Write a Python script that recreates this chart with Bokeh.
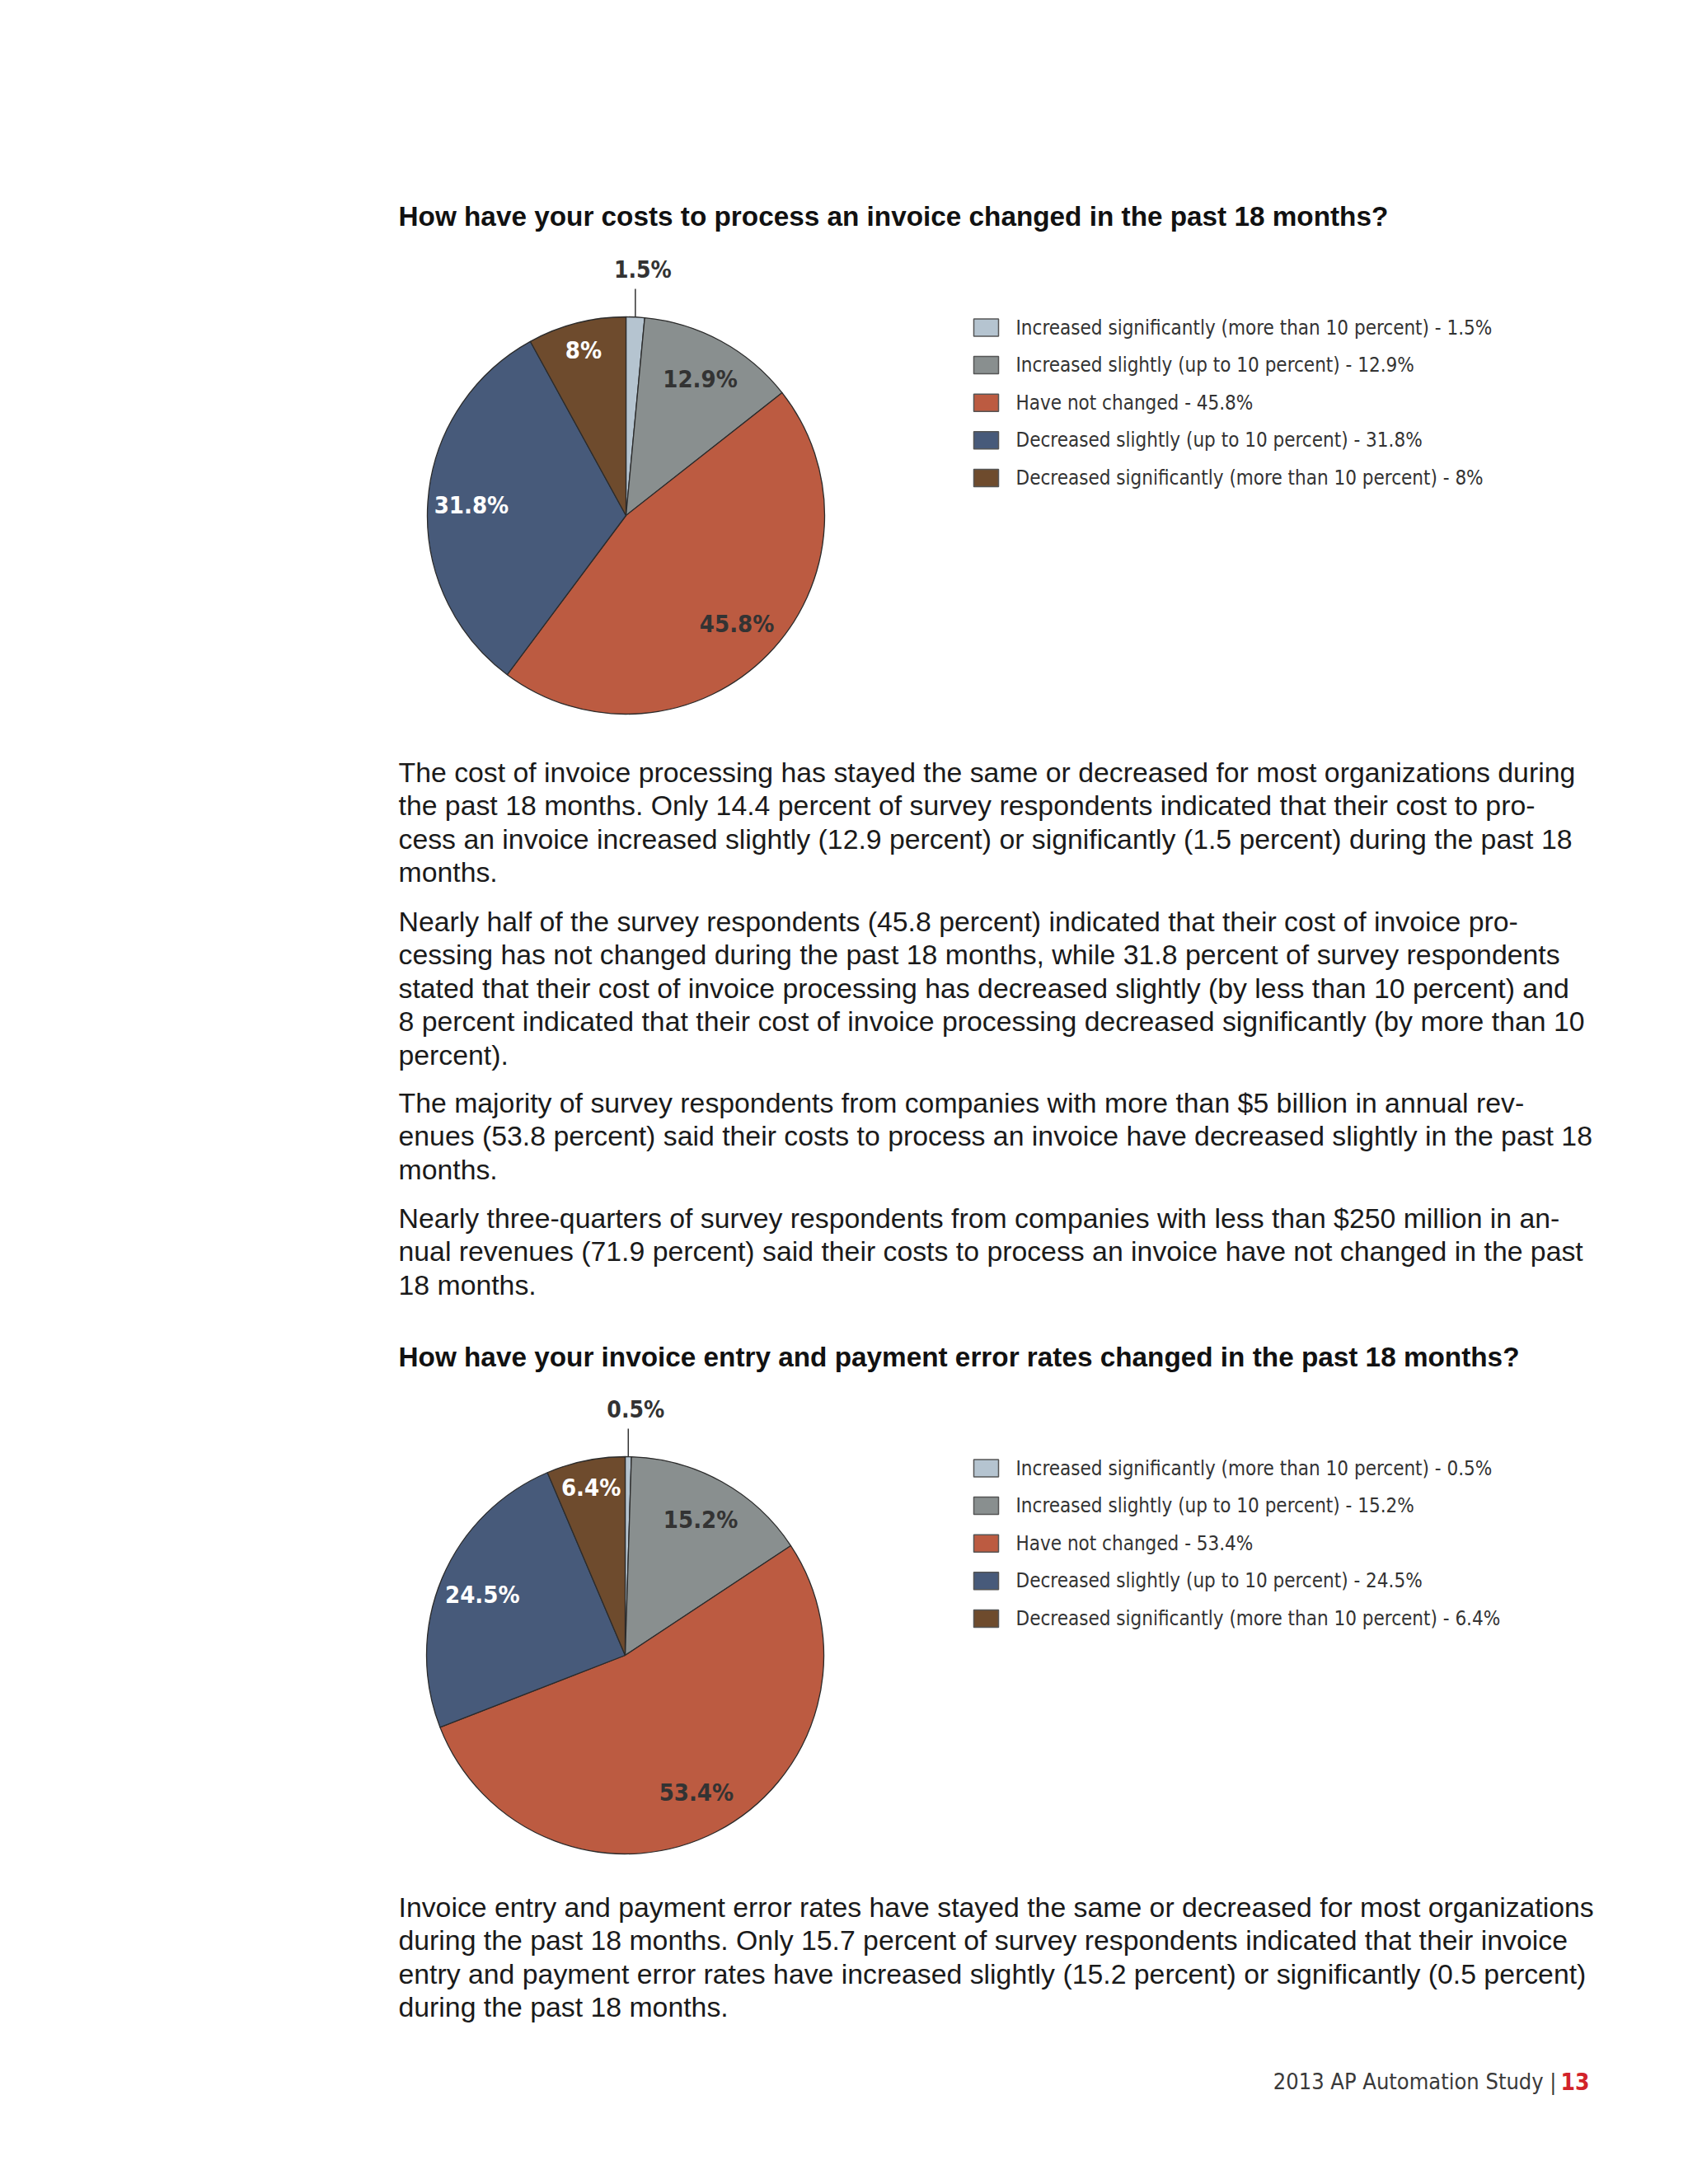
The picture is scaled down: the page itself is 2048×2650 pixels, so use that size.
import numpy as np
from bokeh.plotting import figure
from bokeh.models import Range1d, ColumnDataSource
from bokeh.core.properties import value
from bokeh.embed import file_html
from bokeh.resources import INLINE

# ---------------- data ----------------
categories = [
    "Increased significantly (more than 10 percent)",
    "Increased slightly (up to 10 percent)",
    "Have not changed",
    "Decreased slightly (up to 10 percent)",
    "Decreased significantly (more than 10 percent)",
]
costs_values = [1.5, 12.9, 45.8, 31.8, 8.0]
costs_labels = ["1.5%", "12.9%", "45.8%", "31.8%", "8%"]
errors_values = [0.5, 15.2, 53.4, 24.5, 6.4]
errors_labels = ["0.5%", "15.2%", "53.4%", "24.5%", "6.4%"]
colors = ["#b5c4d0", "#898f8f", "#bc5b41", "#475a7a", "#6e4b2d"]
label_colors = ["#333333", "#333333", "#333333", "#ffffff", "#ffffff"]

title1 = "How have your costs to process an invoice changed in the past 18 months?"
title2 = "How have your invoice entry and payment error rates changed in the past 18 months?"

para1 = [
    "The cost of invoice processing has stayed the same or decreased for most organizations during",
    "the past 18 months. Only 14.4 percent of survey respondents indicated that their cost to pro-",
    "cess an invoice increased slightly (12.9 percent) or significantly (1.5 percent) during the past 18",
    "months.",
]
para2 = [
    "Nearly half of the survey respondents (45.8 percent) indicated that their cost of invoice pro-",
    "cessing has not changed during the past 18 months, while 31.8 percent of survey respondents",
    "stated that their cost of invoice processing has decreased slightly (by less than 10 percent) and",
    "8 percent indicated that their cost of invoice processing decreased significantly (by more than 10",
    "percent).",
]
para3 = [
    "The majority of survey respondents from companies with more than $5 billion in annual rev-",
    "enues (53.8 percent) said their costs to process an invoice have decreased slightly in the past 18",
    "months.",
]
para4 = [
    "Nearly three-quarters of survey respondents from companies with less than $250 million in an-",
    "nual revenues (71.9 percent) said their costs to process an invoice have not changed in the past",
    "18 months.",
]
para5 = [
    "Invoice entry and payment error rates have stayed the same or decreased for most organizations",
    "during the past 18 months. Only 15.7 percent of survey respondents indicated that their invoice",
    "entry and payment error rates have increased slightly (15.2 percent) or significantly (0.5 percent)",
    "during the past 18 months.",
]
footer_text = "2013 AP Automation Study |"
footer_page = "13"

# ---------------- layout ----------------
W, H = 2032, 2634


def Y(py):
    return H - py


p = figure(width=W, height=H, x_range=Range1d(0, W), y_range=Range1d(0, H),
           output_backend="svg", toolbar_location=None, match_aspect=False)
p.axis.visible = False
p.grid.visible = False
p.outline_line_color = None
p.min_border = 0
p.min_border_left = p.min_border_right = p.min_border_top = p.min_border_bottom = 0
p.background_fill_color = "white"

BODY = value("'Liberation Sans', Arial, sans-serif")
NARROW = value("'DejaVu Sans Condensed', sans-serif")

LEFT = 483
LH = 40.6


def draw_lines(lines, y0):
    ys = [Y(y0 + i * LH) for i in range(len(lines))]
    p.text(x=[LEFT] * len(lines), y=ys, text=lines, text_font=BODY,
           text_font_size="33.8px", text_color="#1a1a1a",
           text_align="left", text_baseline="middle")


def draw_pie(values, labels, cx, cy, r, legend_y0, leg_vals):
    v = np.array(values, dtype=float)
    frac = v / v.sum()
    cum = np.concatenate([[0], np.cumsum(frac)])
    start = np.pi / 2 - 2 * np.pi * cum[:-1]
    end = np.pi / 2 - 2 * np.pi * cum[1:]
    src = ColumnDataSource(dict(start=start, end=end, color=colors))
    p.wedge(x=cx, y=Y(cy), radius=r, start_angle="start", end_angle="end",
            direction="clock", fill_color="color", line_color="#2b2b2b",
            line_width=1.3, source=src)
    mid = 2 * np.pi * (cum[:-1] + cum[1:]) / 2  # clockwise from top
    lx, ly, lt, lc = [], [], [], []
    for i in range(1, len(values)):
        k = 0.86 if frac[i] < 0.10 else 0.78
        lx.append(cx + k * r * np.sin(mid[i]))
        ly.append(Y(cy - k * r * np.cos(mid[i])))
        lt.append(labels[i])
        lc.append(label_colors[i])
    p.text(x=lx, y=ly, text=lt, text_color=lc, text_font=NARROW,
           text_font_style="bold", text_font_size="29px",
           text_align="center", text_baseline="middle")
    x0 = cx + r * np.sin(mid[0])
    p.segment(x0=[x0], y0=[Y(cy - r)], x1=[x0], y1=[Y(cy - r - 34)],
              line_color="#333333", line_width=1.5)
    p.text(x=[x0 + 9], y=[Y(cy - r - 57)], text=[labels[0]], text_color="#333333",
           text_font=NARROW, text_font_style="bold", text_font_size="28px",
           text_align="center", text_baseline="middle")
    n = len(categories)
    ys = [Y(legend_y0 + i * 45.6) for i in range(n)]
    p.rect(x=[1196] * n, y=ys, width=30, height=21, fill_color=colors,
           line_color="#555555", line_width=1.5)
    texts = [f"{c} - {lab}" for c, lab in zip(categories, leg_vals)]
    p.text(x=[1232] * n, y=ys, text=texts, text_font=NARROW, text_font_size="24px",
           text_color="#333333", text_align="left", text_baseline="middle")


p.text(x=[LEFT, LEFT], y=[Y(262), Y(1646)], text=[title1, title2], text_font=BODY,
       text_font_style="bold", text_font_size="33.3px", text_color="#111111",
       text_align="left", text_baseline="middle")

draw_pie(costs_values, costs_labels, 759, 625, 241, 397, costs_labels)
draw_pie(errors_values, errors_labels, 758, 2008, 241, 1781, errors_labels)

draw_lines(para1, 936)
draw_lines(para2, 1117)
draw_lines(para3, 1337)
draw_lines(para4, 1477)
draw_lines(para5, 2313)

p.text(x=[1928], y=[Y(2525)], text=[footer_page], text_font=NARROW,
       text_font_style="bold", text_font_size="28px", text_color="#d2232a",
       text_align="right", text_baseline="middle")
p.text(x=[1888], y=[Y(2525)], text=[footer_text], text_font=NARROW,
       text_font_size="27px", text_color="#3a3a3a",
       text_align="right", text_baseline="middle")

open("out.html", "w").write(file_html(p, INLINE))
